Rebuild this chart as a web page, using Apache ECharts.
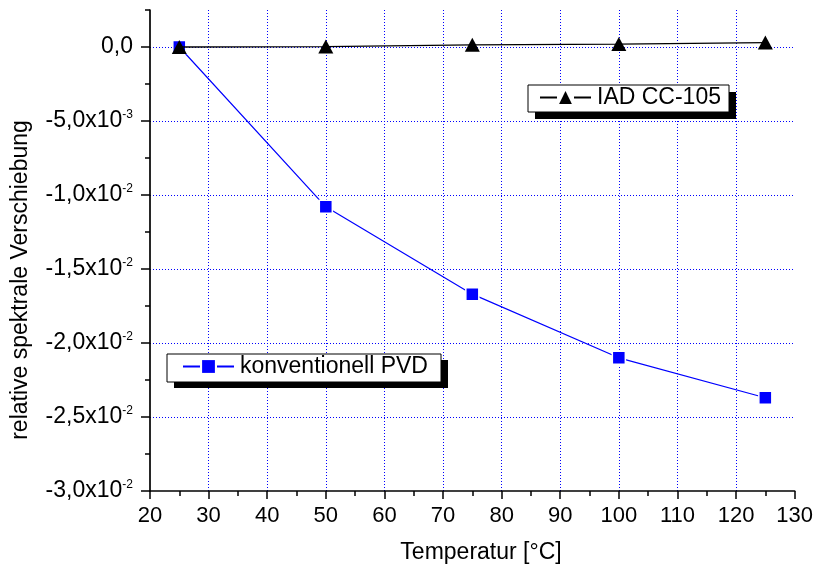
<!DOCTYPE html>
<html>
<head>
<meta charset="utf-8">
<script src="https://cdn.jsdelivr.net/npm/echarts@6/dist/echarts.min.js"></script>
<style>
  html, body { margin: 0; padding: 0; background: #fff; }
  #chart { width: 816px; height: 567px; }
</style>
</head>
<body>
<div id="chart"></div>
<script>
// Temperature steps in °C
const temperatures = [25, 50, 75, 100, 125];
// Relative spectral shift, conventional PVD coating
const pvdShift = [0, -0.0108, -0.0167, -0.0210, -0.0237];
// Relative spectral shift, IAD CC-105 coating
const iadShift = [0, 0.00003, 0.00015, 0.0002, 0.0003];

const seriesNames = ['konventionell PVD', 'IAD CC-105'];
const xTitle = 'Temperatur [°C]';
const yTitle = 'relative spektrale Verschiebung';

const FONT = "'Liberation Sans', Arial, sans-serif";

// Labels like "-1,5x10^-2" with a raised exponent
function sciLabel(v) {
  if (Math.abs(v) < 1e-12) return '{m|0,0}';
  const e = Math.floor(Math.log10(Math.abs(v)) + 1e-9);
  const m = v / Math.pow(10, e);
  return '{m|' + m.toFixed(1).replace('.', ',') + 'x10}{e|' + e + '}';
}

// Legend frame with a solid drop shadow
function legendFrame(x, y, w, h, dx, dy) {
  return [
    { type: 'rect', z: 3, shape: { x: x + dx, y: y + dy, width: w, height: h }, style: { fill: '#000' } },
    { type: 'rect', z: 3, shape: { x: x, y: y, width: w, height: h }, style: { fill: '#fff', stroke: '#000', lineWidth: 1 } }
  ];
}

const chart = echarts.init(document.getElementById('chart'), null, { renderer: 'canvas' });

const dotted = { color: '#0000ff', width: 1, type: [1, 2] };

function legendFor(name, left, top) {
  return {
    data: [name],
    left: left, top: top,
    orient: 'horizontal',
    itemWidth: 51, itemHeight: 16, itemGap: 0,
    padding: 0,
    z: 6,
    backgroundColor: 'transparent',
    borderWidth: 0,
    // line segments on either side of the marker, with a small gap
    lineStyle: { type: [17, 17] },
    itemStyle: { borderWidth: 0 },
    textStyle: { color: '#000', fontSize: 23, fontFamily: FONT, padding: [0, 0, 0, 1] },
    selectedMode: false
  };
}

chart.setOption({
  animation: false,
  backgroundColor: '#ffffff',
  textStyle: { fontFamily: FONT },
  grid: { left: 150, right: 21, top: 10, bottom: 76, containLabel: false },
  xAxis: {
    type: 'value',
    min: 20, max: 130, interval: 10,
    axisLine: { show: true, onZero: false, lineStyle: { color: '#000', width: 1.7 } },
    axisTick: { show: true, inside: false, length: 8, lineStyle: { color: '#000', width: 1.5 } },
    minorTick: { show: true, splitNumber: 2, length: 5, lineStyle: { color: '#000', width: 1.5 } },
    axisLabel: { color: '#000', fontSize: 22, fontFamily: FONT, margin: 14 },
    splitLine: { show: true, showMinLine: false, showMaxLine: false, lineStyle: dotted }
  },
  yAxis: [
    {
      type: 'value',
      min: -0.03, max: 0.0025, interval: 0.005,
      axisLine: { show: true, onZero: false, lineStyle: { color: '#000', width: 1.7 } },
      axisTick: { show: true, inside: false, length: 9, lineStyle: { color: '#000', width: 1.5 } },
      axisLabel: {
        showMaxLabel: false,
        margin: 17,
        formatter: sciLabel,
        rich: {
          m: { fontSize: 23, fontFamily: FONT, color: '#000', lineHeight: 24 },
          e: { fontSize: 12, fontFamily: FONT, color: '#000', verticalAlign: 'top', lineHeight: 12 }
        }
      },
      splitLine: { show: true, showMinLine: false, showMaxLine: false, lineStyle: dotted }
    },
    {
      // short ticks every 2.5e-3
      type: 'value',
      position: 'left',
      min: -0.03, max: 0.0025, interval: 0.0025,
      axisLine: { show: false },
      axisTick: { show: true, inside: false, length: 5, lineStyle: { color: '#000', width: 1.5 } },
      axisLabel: { show: false },
      splitLine: { show: false }
    }
  ],
  legend: [
    legendFor(seriesNames[1], 539, 86),
    legendFor(seriesNames[0], 182, 355)
  ],
  graphic: [
    ...legendFrame(528, 85, 201, 27, 7, 7),
    ...legendFrame(167, 354, 274, 28, 7, 6),
    {
      type: 'text',
      x: 481, y: 553,
      style: { text: xTitle, fill: '#000', font: '23px ' + FONT, textAlign: 'center', textVerticalAlign: 'middle' }
    },
    {
      type: 'text',
      x: 21, y: 280,
      rotation: Math.PI / 2,
      style: { text: yTitle, fill: '#000', font: '23px ' + FONT, textAlign: 'center', textVerticalAlign: 'middle' }
    }
  ],
  series: [
    {
      name: seriesNames[0],
      type: 'line',
      data: temperatures.map((t, i) => [t, pvdShift[i]]),
      symbol: 'rect',
      symbolSize: 13,
      showAllSymbol: true,
      lineStyle: { color: '#0000ff', width: 1.2 },
      itemStyle: { color: '#0000ff', borderColor: '#ffffff', borderWidth: 1.5 },
      z: 2
    },
    {
      name: seriesNames[1],
      type: 'line',
      data: temperatures.map((t, i) => [t, iadShift[i]]),
      symbol: 'triangle',
      symbolSize: [15, 14],
      showAllSymbol: true,
      lineStyle: { color: '#000000', width: 1.3 },
      itemStyle: { color: '#000000' },
      z: 3
    }
  ]
});
</script>
</body>
</html>
